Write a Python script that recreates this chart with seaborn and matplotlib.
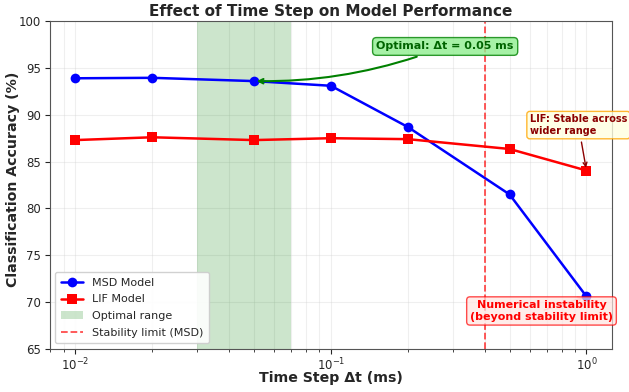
import numpy as np
import pandas as pd
import matplotlib
matplotlib.use("Agg")
import matplotlib.pyplot as plt
import seaborn as sns

time_steps = [0.01, 0.02, 0.05, 0.1, 0.2, 0.5, 1.0]
msd_acc = [93.9, 93.95, 93.6, 93.1, 88.7, 81.5, 70.6]
lif_acc = [87.3, 87.6, 87.3, 87.5, 87.4, 86.35, 84.05]
optimal_range = [0.03, 0.07]
stability_limit = 0.4

sns.set_style("ticks")
plt.rcParams['font.family'] = ['DejaVu Sans']

df = pd.DataFrame({"dt": time_steps, "MSD": msd_acc, "LIF": lif_acc})

fig, ax = plt.subplots(figsize=(6.29, 3.92), dpi=100)
fig.subplots_adjust(left=0.079, right=0.973, top=0.946, bottom=0.110)

sns.lineplot(data=df, x="dt", y="MSD", marker="o", color="blue", linewidth=1.8,
             markersize=7, markeredgewidth=0, label="MSD Model", ax=ax)
sns.lineplot(data=df, x="dt", y="LIF", marker="s", color="red", linewidth=1.8,
             markersize=7, markeredgewidth=0, label="LIF Model", ax=ax)
ax.axvspan(optimal_range[0], optimal_range[1], color="green", alpha=0.2, lw=0,
           label="Optimal range")
ax.axvline(stability_limit, color="red", linestyle="--", alpha=0.7, linewidth=1.3,
           label="Stability limit (MSD)")

ax.set_xscale("log")
ax.set_ylim(65, 100)
ax.set_yticks([65, 70, 75, 80, 85, 90, 95, 100])
ax.grid(True, which="both", alpha=0.3)
for s in ax.spines.values():
    s.set_color("#555555")
ax.tick_params(labelsize=8.5, pad=2.5)
ax.tick_params(axis="x", pad=2)

ax.set_title("Effect of Time Step on Model Performance", fontsize=11, fontweight="bold", pad=4)
ax.set_xlabel("Time Step Δt (ms)", fontsize=10.2, fontweight="bold")
ax.xaxis.set_label_coords(0.5, -0.068)
ax.set_ylabel("Classification Accuracy (%)", fontsize=10.2, fontweight="bold")
ax.yaxis.set_label_coords(-0.053, 0.518)

ax.annotate("Optimal: Δt = 0.05 ms", xy=(time_steps[2], msd_acc[2]), xytext=(0.28, 97.3),
            ha="center", va="center", fontsize=8, fontweight="bold", color="darkgreen",
            bbox=dict(boxstyle="round,pad=0.35", facecolor="lightgreen", edgecolor="green", alpha=0.8),
            arrowprops=dict(arrowstyle="->", color="green", lw=1.5, connectionstyle="arc3,rad=-0.1"))

ax.annotate("LIF: Stable across\nwider range", xy=(time_steps[-1], lif_acc[-1]), xytext=(0.6, 88.9),
            ha="left", va="center", fontsize=7, fontweight="bold", color="darkred",
            bbox=dict(boxstyle="round,pad=0.3", facecolor="lightyellow", edgecolor="orange", alpha=0.8),
            arrowprops=dict(arrowstyle="->", color="darkred", lw=1))

ax.annotate("Numerical instability\n(beyond stability limit)", xy=(time_steps[-1], msd_acc[-1]),
            xytext=(0.667, 69.05), ha="center", va="center", fontsize=8, fontweight="bold", color="red",
            bbox=dict(boxstyle="round,pad=0.3", facecolor="mistyrose", edgecolor="red", alpha=0.7),
            arrowprops=dict(arrowstyle="->", color="red", lw=1, alpha=0.3))

ax.legend(loc="lower left", fontsize=8, framealpha=0.9, labelspacing=0.6, borderpad=0.5)

fig.savefig("out.png", dpi=100)
